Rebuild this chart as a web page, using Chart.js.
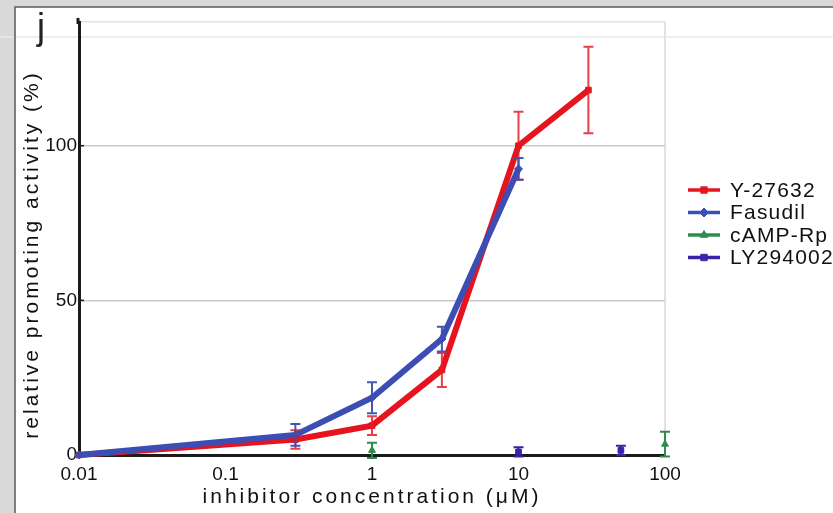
<!DOCTYPE html>
<html><head><meta charset="utf-8">
<script src="https://cdn.jsdelivr.net/npm/chart.js@4"></script>
<style>html,body{margin:0;padding:0;background:#d9d9d9;overflow:hidden}canvas{display:block}</style>
</head><body>
<canvas id="c" width="833" height="513"></canvas>
<script>
// ---- data ----
const seriesNames = ['Y-27632', 'Fasudil', 'cAMP-Rp', 'LY294002'];
const y27632X = [0.01, 0.3, 1, 3, 10, 30];
const y27632Y = [0, 5, 9.5, 27.5, 100, 118];
const y27632Err = [0, 3, 3, 5.5, 11, 14];
const fasudilX = [0.01, 0.3, 1, 3, 10];
const fasudilY = [0, 6.5, 18.5, 37.5, 92.5];
const fasudilErr = [0, 3.5, 5, 4, 3.5];
const campX = [1, 100];
const campY = [1.5, 3.5];
const campErr = [2.5, 4];
const lyX = [10, 50];
const lyY = [1, 1.5];
const lyErr = [1.5, 1.5];
const xTicks = [0.01, 0.1, 1, 10, 100];
const xTickLabels = ['0.01', '0.1', '1', '10', '100'];
const yTicks = [0, 50, 100];
const yTickLabels = ['0', '50', '100'];
const panelLabel = 'j';
const xTitle = 'inhibitor concentration (μM)';
const yTitle = 'relative promoting activity (%)';

// ---- styles ----
const FONT = '"Liberation Sans", Arial, Helvetica, sans-serif';
Chart.defaults.font.family = FONT;
const colors = ['#e5141e', '#3c4db4', '#2f8a4e', '#3b22a8'];
const errColors = ['rgba(229,30,40,0.85)', 'rgba(60,77,180,0.95)', '#2f8a4e', '#3b22a8'];
const pStyles = ['rect', 'rectRot', 'triangle', 'rect'];
const errs = [y27632Err, fasudilErr, campErr, lyErr];

function pts(xs, ys) { return xs.map((x, i) => ({ x: x, y: ys[i] })); }

// letter spacing / shift for axis titles
const ScaleProto = Chart.Scale.prototype;
const origDrawTitle = ScaleProto.drawTitle;
ScaleProto.drawTitle = function () {
  const ctx = this.ctx; const t = this.options.title;
  ctx.save();
  ctx.letterSpacing = (t.letterSpacing || 0) + 'px';
  if (t.shiftY) ctx.translate(0, t.shiftY);
  origDrawTitle.call(this);
  ctx.restore();
};

const framePlugin = {
  id: 'frame',
  beforeDraw(chart) {
    const ctx = chart.ctx, W = chart.width, H = chart.height;
    ctx.save();
    ctx.fillStyle = '#d9d9d9'; ctx.fillRect(0, 0, W, H);
    ctx.fillStyle = '#ffffff'; ctx.fillRect(15, 7, W - 15, H - 7);
    ctx.strokeStyle = '#e9e9e9'; ctx.lineWidth = 1.5;
    ctx.beginPath(); ctx.moveTo(0, 37); ctx.lineTo(W, 37); ctx.stroke();
    ctx.strokeStyle = '#5a5a5a'; ctx.lineWidth = 1.5;
    ctx.beginPath(); ctx.moveTo(15, H); ctx.lineTo(15, 7); ctx.lineTo(W, 7); ctx.stroke();
    ctx.fillStyle = '#222'; ctx.font = '36px ' + FONT; ctx.textAlign = 'center'; ctx.textBaseline = 'alphabetic';
    ctx.fillText(panelLabel, 41, 39);
    ctx.restore();
  },
  afterDraw(chart) {
    const ctx = chart.ctx, a = chart.chartArea, ys = chart.scales.y;
    ctx.save();
    ctx.strokeStyle = '#1a1a1a'; ctx.lineWidth = 3;
    ctx.beginPath(); ctx.moveTo(a.left - 1, 18); ctx.lineTo(a.left - 1, a.top + 2); ctx.stroke();
    // inward tick marks on the y axis
    ctx.lineWidth = 1.5;
    yTicks.forEach(v => {
      if (v === 0) return;
      const py = ys.getPixelForValue(v);
      ctx.beginPath(); ctx.moveTo(a.left, py); ctx.lineTo(a.left + 5, py); ctx.stroke();
    });
    // legend
    const lx0 = 688, lx1 = 720, tx = 730, ly0 = 190, ldy = 22.5;
    seriesNames.forEach((name, i) => {
      const y = ly0 + i * ldy;
      ctx.strokeStyle = colors[i]; ctx.lineWidth = 3.5;
      ctx.beginPath(); ctx.moveTo(lx0, y); ctx.lineTo(lx1, y); ctx.stroke();
      ctx.fillStyle = colors[i]; ctx.lineWidth = 1;
      Chart.helpers.drawPoint(ctx, { pointStyle: pStyles[i], radius: 4.5, borderWidth: 1, rotation: 0 }, (lx0 + lx1) / 2, y);
      ctx.fillStyle = '#111'; ctx.font = '21px ' + FONT; ctx.textAlign = 'left'; ctx.textBaseline = 'middle';
      ctx.letterSpacing = '1.2px';
      ctx.fillText(name, tx, y + 1);
      ctx.letterSpacing = '0px';
    });
    ctx.restore();
  }
};

const errorPlugin = {
  id: 'errbars',
  afterDatasetsDraw(chart) {
    const ctx = chart.ctx, ys = chart.scales.y;
    ctx.save();
    chart.data.datasets.forEach((ds, di) => {
      const meta = chart.getDatasetMeta(di);
      ctx.strokeStyle = errColors[di]; ctx.lineWidth = 2;
      meta.data.forEach((el, i) => {
        const e = errs[di][i]; if (!e) return;
        const v = ds.data[i].y;
        const yt = ys.getPixelForValue(v + e), yb = ys.getPixelForValue(v - e);
        const x = el.x;
        ctx.beginPath();
        ctx.moveTo(x, yt); ctx.lineTo(x, yb);
        ctx.moveTo(x - 5, yt); ctx.lineTo(x + 5, yt);
        ctx.moveTo(x - 5, yb); ctx.lineTo(x + 5, yb);
        ctx.stroke();
      });
    });
    ctx.restore();
  }
};

const datasets = [
  { label: seriesNames[0], data: pts(y27632X, y27632Y), order: 2 },
  { label: seriesNames[1], data: pts(fasudilX, fasudilY), order: 1 },
  { label: seriesNames[2], data: pts(campX, campY), order: 0, showLine: false },
  { label: seriesNames[3], data: pts(lyX, lyY), order: 0, showLine: false }
].map((d, i) => Object.assign({
  borderColor: colors[i], backgroundColor: colors[i], pointBackgroundColor: colors[i],
  pointBorderColor: colors[i], borderWidth: 6, pointStyle: pStyles[i], pointRadius: 4,
  pointBorderWidth: 1, tension: 0, clip: 8
}, d));

new Chart(document.getElementById('c'), {
  type: 'line',
  data: { datasets: datasets },
  options: {
    responsive: false, animation: false,
    layout: { padding: { left: 15, top: 22, right: 168, bottom: 0 } },
    plugins: { legend: { display: false }, tooltip: { enabled: false } },
    scales: {
      x: {
        type: 'logarithmic', min: 0.01, max: 100, position: 'bottom',
        afterBuildTicks: s => { s.ticks = xTicks.map(v => ({ value: v })); },
        afterFit: s => { s.height = 58; },
        grid: { display: true, drawTicks: false, lineWidth: 2,
          color: c => (c.tick && c.tick.value === 100) ? '#e2e2e2' : 'rgba(0,0,0,0)' },
        border: { display: true, color: '#1a1a1a', width: 3 },
        ticks: { color: '#111', font: { size: 19 }, padding: 8, maxRotation: 0, autoSkip: false,
          callback: (v, i) => xTickLabels[i] },
        title: { display: true, text: xTitle, color: '#111', font: { size: 21 },
          padding: { top: 0, bottom: 3 }, letterSpacing: 3 }
      },
      y: {
        type: 'linear', min: 0, max: 140,
        afterBuildTicks: s => { s.ticks = yTicks.concat([140]).map(v => ({ value: v })); },
        afterFit: s => { s.width = 64; },
        grid: { drawTicks: false, lineWidth: 1.5,
          color: c => c.tick.value === 140 ? '#e2e2e2' : (c.tick.value === 0 ? 'rgba(0,0,0,0)' : '#c9c9c9') },
        border: { display: true, color: '#1a1a1a', width: 3 },
        ticks: { color: '#111', font: { size: 19 }, padding: 2,
          callback: (v, i) => i < yTickLabels.length ? yTickLabels[i] : '' },
        title: { display: true, text: yTitle, color: '#111', font: { size: 21 },
          padding: { top: 5, bottom: 0 }, letterSpacing: 3, shiftY: 16 }
      }
    }
  },
  plugins: [framePlugin, errorPlugin]
});
</script>
</body></html>
